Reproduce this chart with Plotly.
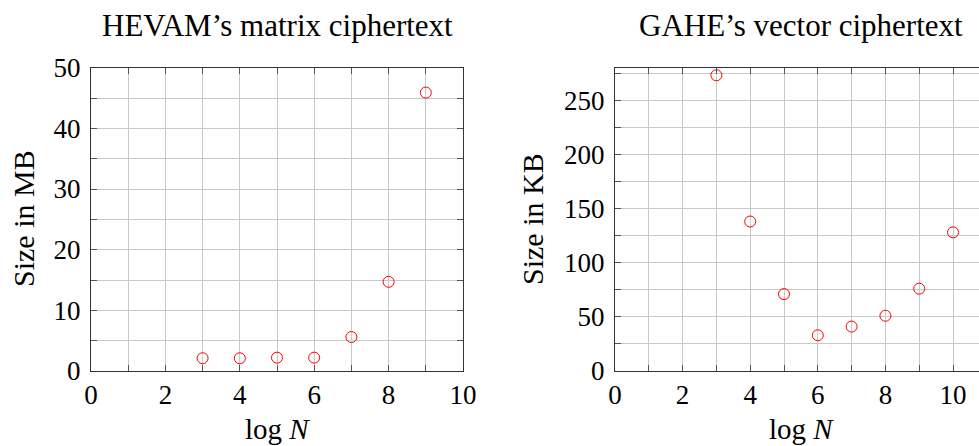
import plotly.graph_objects as go

# Data
log_n_left = [3, 4, 5, 6, 7, 8, 9]
size_mb = [2.1, 2.1, 2.2, 2.2, 5.6, 14.7, 45.9]

log_n_right = [3, 4, 5, 6, 7, 8, 9, 10]
size_kb = [273, 138, 71, 33, 41, 51, 76, 128]

left_title = "HEVAM’s matrix ciphertext"
right_title = "GAHE’s vector ciphertext"
x_label = "log <i>N</i>"
left_ylabel = "Size in MB"
right_ylabel = "Size in KB"

FONT = "Liberation Serif"
W, H = 979, 446
GRID = "#c8c8c8"
AX = "#333333"

fig = go.Figure()
marker = dict(symbol="circle-open", size=11, color="red", line=dict(width=1, color="red"))
fig.add_trace(go.Scatter(x=log_n_left, y=size_mb, mode="markers", marker=marker,
                         xaxis="x", yaxis="y", showlegend=False))
fig.add_trace(go.Scatter(x=log_n_right, y=size_kb, mode="markers", marker=marker,
                         xaxis="x2", yaxis="y2", showlegend=False))

ydom = [1 - 371 / H, 1 - 67.7 / H]
x1dom = [91 / W, 463 / W]
x2dom = [615 / W, 1.0]
x2max = (979 - 615) / 33.8

def xaxis(dom, rng, anchor):
    return dict(domain=dom, range=rng, anchor=anchor, dtick=2, tick0=0, automargin=False,
                showline=True, linecolor=AX, linewidth=1, mirror="ticks",
                ticks="inside", ticklen=6, tickcolor="#555", tickwidth=1,
                showgrid=True, gridcolor=GRID, gridwidth=1, zeroline=False,
                minor=dict(dtick=1, tick0=0, ticks="inside", ticklen=6, tickcolor="#555",
                           showgrid=True, gridcolor=GRID, gridwidth=1),
                tickfont=dict(family=FONT, size=27, color="black"),
                ticklabelstandoff=0)

def yaxis(dom, rng, anchor, dtick, mirror):
    return dict(domain=dom, range=rng, anchor=anchor, dtick=dtick, tick0=0, automargin=False,
                showline=True, linecolor=AX, linewidth=1, mirror=mirror,
                ticks="inside", ticklen=6, tickcolor="#555", tickwidth=1,
                showgrid=True, gridcolor=GRID, gridwidth=1, zeroline=False,
                minor=dict(dtick=dtick / 2, tick0=0, ticks="inside", ticklen=6, tickcolor="#555",
                           showgrid=True, gridcolor=GRID, gridwidth=1),
                tickfont=dict(family=FONT, size=27, color="black"),
                ticklabelstandoff=4)

fig.update_layout(
    width=W, height=H,
    margin=dict(l=0, r=0, t=0, b=0, autoexpand=False),
    paper_bgcolor="white", plot_bgcolor="white",
    font=dict(family=FONT, size=27, color="black"),
    xaxis=xaxis(x1dom, [0, 10], "y"),
    yaxis=yaxis(ydom, [0, 50], "x", 10, "ticks"),
    xaxis2=xaxis(x2dom, [0, x2max], "y2"),
    yaxis2=yaxis(ydom, [0, 280], "x2", 50, False),
    # right-edge tick stubs of the (cropped) right subplot
    yaxis3=dict(overlaying="y2", side="right", anchor="x2", range=[0, 280], dtick=50, tick0=0,
                automargin=False, showline=False, showgrid=False, zeroline=False,
                showticklabels=False, ticks="inside", ticklen=3, tickcolor="#555",
                minor=dict(dtick=25, tick0=0, ticks="inside", ticklen=3, tickcolor="#555",
                           showgrid=False)),
)

ann = []
def txt(x, y, s, size=30, angle=0):
    ann.append(dict(x=x / W, y=1 - y / H, xref="paper", yref="paper", text=s, showarrow=False,
                    xanchor="center", yanchor="middle", textangle=angle,
                    font=dict(family=FONT, size=size, color="black")))

txt(277, 26, left_title, size=31)
txt(801, 26, right_title, size=31)
txt(277, 429, x_label, size=29)
txt(801, 429, x_label, size=29)
txt(23, 219, left_ylabel, angle=-90)
txt(532, 219, right_ylabel, angle=-90)
fig.update_layout(annotations=ann)

fig.write_html("out.html")
